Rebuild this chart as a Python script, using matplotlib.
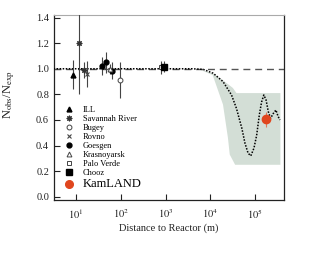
import matplotlib
matplotlib.use('Agg')
import matplotlib.pyplot as plt
from matplotlib.lines import Line2D
import numpy as np

# --- data ---
# reactor experiments: distance (m), Nobs/Nexp, error
ill = ([8.7], [0.955], [0.115])
savannah = ([11.5, 15.0], [1.20, 0.99], [0.40, 0.06])
bugey = ([95.0], [0.915], [0.14])
rovno = ([17.6], [0.96], [0.10])
goesgen = ([37.6, 46.0, 65.0], [1.02, 1.05, 0.985], [0.07, 0.08, 0.065])
krasnoyarsk = ([57.0], [1.0], [0.04])
palo_verde = ([800.0], [1.01], [0.05])
chooz = ([900.0], [1.016], [0.045])
kamland = ([1.74e5], [0.605], [0.06])

# oscillation curve (log10 distance, ratio)
curve_logx = [0.5, 1.0, 2.0, 3.0, 3.6, 3.84, 4.06, 4.28, 4.47, 4.58, 4.70, 4.77,
              4.84, 4.90, 4.97, 5.03, 5.09, 5.14, 5.19, 5.24, 5.29, 5.34, 5.40,
              5.46, 5.51, 5.55]
curve_y = [1.0, 1.0, 1.0, 1.0, 1.0, 0.995, 0.965, 0.90, 0.795, 0.69, 0.535, 0.418,
           0.34, 0.32, 0.38, 0.48, 0.64, 0.74, 0.795, 0.756, 0.665, 0.613, 0.65,
           0.678, 0.626, 0.60]

# allowed band polygon (log10 distance)
band_up_logx = [3.72, 4.05, 4.28, 4.50, 4.58, 5.56]
band_up_y = [1.0, 0.965, 0.91, 0.85, 0.81, 0.81]
band_lo_logx = [3.72, 4.05, 4.28, 4.39, 4.43, 4.55, 5.56]
band_lo_y = [1.0, 0.95, 0.72, 0.46, 0.33, 0.25, 0.25]

plt.rcParams['font.family'] = 'Liberation Serif'
plt.rcParams['mathtext.fontset'] = 'stix'

fig = plt.figure(figsize=(3.27, 2.76), dpi=100)
ax = fig.add_axes([0.165, 0.2754, 0.7035, 0.6703])

# band
bx = np.concatenate([np.power(10.0, band_up_logx), np.power(10.0, band_lo_logx)[::-1]])
by = np.concatenate([band_up_y, band_lo_y[::-1]])
ax.fill(bx, by, color='#d3ded6', lw=0, zorder=1)

ax.axhline(1.0, color='#555555', lw=1.0, ls=(0, (5, 3.5)), zorder=2)
ax.plot(np.power(10.0, curve_logx), curve_y, color='black', lw=1.1, ls=(0, (1, 1)), zorder=3)

styles = [
    ('ILL', ill, dict(marker='^', color='black', ms=3.5)),
    ('Savannah River', savannah, dict(marker=(8, 2, 0), color='#333333', ms=4, mew=0.8)),
    ('Bugey', bugey, dict(marker='o', mfc='white', mec='#444444', color='#444444', ms=3.5, mew=0.7)),
    ('Rovno', rovno, dict(marker='x', color='#444444', ms=3.5, mew=0.8)),
    ('Goesgen', goesgen, dict(marker='o', color='black', ms=3.5)),
    ('Krasnoyarsk', krasnoyarsk, dict(marker='^', mfc='white', mec='#444444', color='#444444', ms=3.5, mew=0.7)),
    ('Palo Verde', palo_verde, dict(marker='s', mfc='white', mec='#444444', color='#444444', ms=3.5, mew=0.7)),
    ('Chooz', chooz, dict(marker='s', color='black', ms=4)),
]

handles = []
for name, (x, y, e), st in styles:
    ax.errorbar(x, y, yerr=e, ls='none', ecolor='#444444', elinewidth=0.8,
                capsize=0, zorder=4, **st)
    handles.append(Line2D([], [], ls='none', label=name, **st))

ax.errorbar(kamland[0], kamland[1], yerr=kamland[2], ls='none', marker='o', color='#e0461e',
            ecolor='#e07a5a', elinewidth=0.8, ms=6, zorder=5)
handles.append(Line2D([], [], ls='none', marker='o', color='#e0461e', ms=5.5, label='KamLAND'))

ax.set_xscale('log')
ax.set_xlim(10**0.51, 10**5.64)
ax.set_ylim(-0.025, 1.42)
ax.set_xticks([1e1, 1e2, 1e3, 1e4, 1e5])
ax.set_xticklabels([r'$10^1$', r'$10^2$', r'$10^3$', r'$10^4$', r'$10^5$'])
ax.xaxis.set_minor_locator(matplotlib.ticker.NullLocator())
ax.set_yticks([0.0, 0.2, 0.4, 0.6, 0.8, 1.0, 1.2, 1.4])
ax.set_yticklabels(['0.0', '0.2', '0.4', '0.6', '0.8', '1.0', '1.2', '1.4'])
ax.tick_params(direction='in', length=4, width=0.8, labelsize=7.5, colors='#222222')
ax.tick_params(axis='x', pad=5)

for s in ['left', 'bottom', 'right']:
    ax.spines[s].set_color('#222222')
    ax.spines[s].set_linewidth(0.9)
ax.spines['top'].set_color('#aaaaaa')
ax.spines['top'].set_linewidth(0.8)

ax.set_xlabel('Distance to Reactor (m)', fontsize=7.5, color='#222222', labelpad=2)
ax.set_ylabel(r'N$_{\mathrm{obs}}$/N$_{\mathrm{exp}}$', fontsize=9, color='#222222')
ax.yaxis.set_label_coords(-0.16, 0.57)

leg = ax.legend(handles=handles, loc='upper left', bbox_to_anchor=(0.025, 0.542), frameon=False,
                fontsize=6, handlelength=0.8, handletextpad=1.3, labelspacing=0.12, borderpad=0.2)
leg.get_texts()[-1].set_fontsize(9)

fig.savefig('out.png', dpi=100)
